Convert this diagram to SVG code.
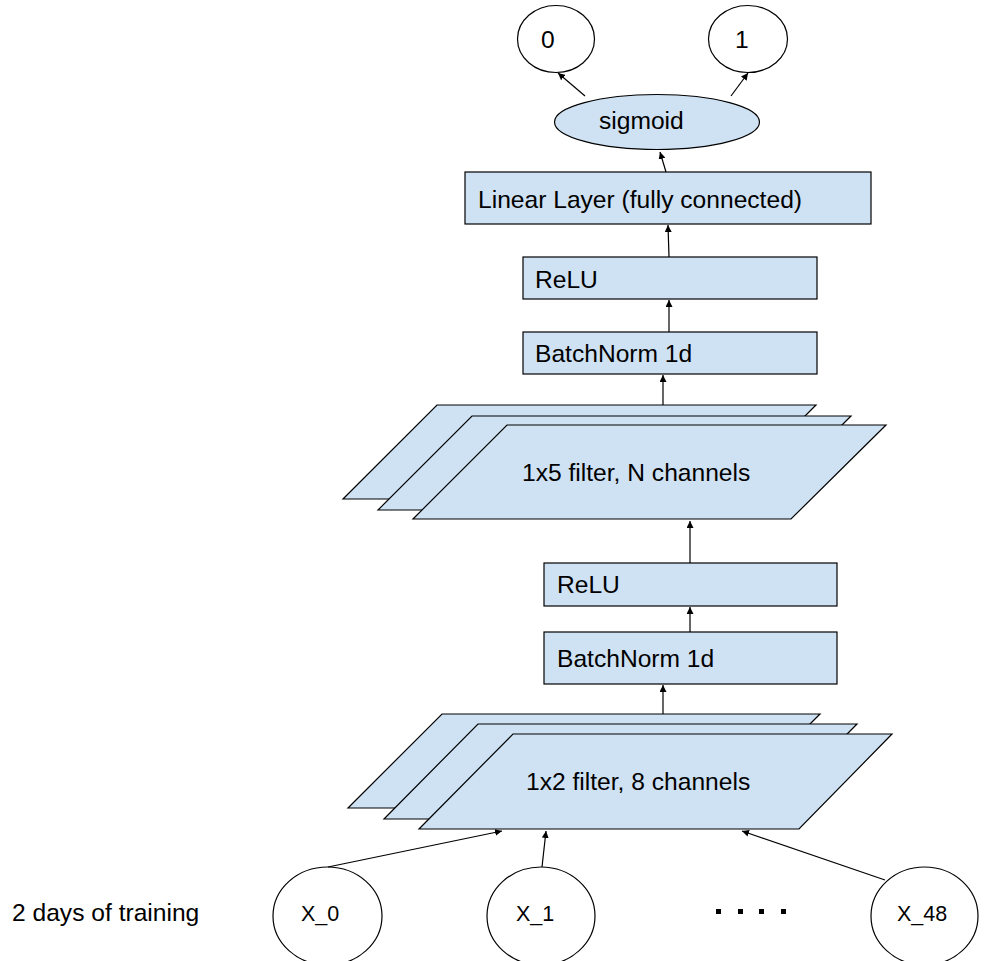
<svg xmlns="http://www.w3.org/2000/svg" width="986" height="961" viewBox="0 0 986 961">
  <defs>
    <style>
      .box { fill: #cfe2f3; stroke: #000; stroke-width: 1.2; }
      .plain { fill: #fff; stroke: #000; stroke-width: 1.2; }
      .lbl { font-family: "Liberation Sans", Arial, sans-serif; font-size: 24.6px; fill: #000; }
      .xlbl { font-family: "Liberation Sans", Arial, sans-serif; font-size: 21.5px; fill: #000; }
      .edge { fill: none; stroke: #000; stroke-width: 1.2; marker-end: url(#arrow); }
    </style>
    <marker id="arrow" viewBox="0 0 10 10" refX="10" refY="5" markerWidth="7" markerHeight="7" markerUnits="userSpaceOnUse" orient="auto">
      <path d="M0,0 L10,5 L0,10 z" fill="#000"/>
    </marker>
  </defs>

  <rect width="986" height="961" fill="#fff"/>

  <!-- outputs -->
  <g id="out0">
    <ellipse class="plain" cx="556" cy="39" rx="38.5" ry="33.5"/>
    <text class="lbl" x="541" y="48">0</text>
  </g>
  <g id="out1">
    <ellipse class="plain" cx="748" cy="39" rx="39.5" ry="33.5"/>
    <text class="lbl" x="735" y="48">1</text>
  </g>

  <g id="sigmoid">
    <ellipse class="box" cx="657" cy="122" rx="102.5" ry="27.5"/>
    <text class="lbl" x="599" y="129">sigmoid</text>
  </g>

  <g id="linear">
    <rect class="box" x="465" y="172" width="406" height="52"/>
    <text class="lbl" x="478" y="208">Linear Layer (fully connected)</text>
  </g>

  <g id="relu2">
    <rect class="box" x="523" y="257" width="294" height="42"/>
    <text class="lbl" x="535" y="288">ReLU</text>
  </g>

  <g id="bn2">
    <rect class="box" x="523" y="332" width="294" height="42"/>
    <text class="lbl" x="535" y="362">BatchNorm 1d</text>
  </g>

  <!-- second convolution: stacked feature maps -->
  <g id="conv2">
    <polygon class="box" points="437,405 816,405 722,499 343,499"/>
    <polygon class="box" points="472,416 851,416 757,510 378,510"/>
    <polygon class="box" points="507,425 886,425 791,519 413,519"/>
    <text class="lbl" x="522" y="481">1x5 filter, N channels</text>
  </g>

  <g id="relu1">
    <rect class="box" x="544" y="563" width="293" height="43"/>
    <text class="lbl" x="557" y="593">ReLU</text>
  </g>

  <g id="bn1">
    <rect class="box" x="544" y="632" width="293" height="52"/>
    <text class="lbl" x="557" y="667">BatchNorm 1d</text>
  </g>

  <!-- first convolution: stacked feature maps -->
  <g id="conv1">
    <polygon class="box" points="442,714 820,714 726,808 348,808"/>
    <polygon class="box" points="478,724 857,724 763,819 384,819"/>
    <polygon class="box" points="513,734 892,734 799,829 419,829"/>
    <text class="lbl" x="526" y="790">1x2 filter, 8 channels</text>
  </g>

  <!-- inputs -->
  <g id="caption">
    <text class="lbl" x="12" y="921">2 days of training</text>
  </g>
  <g id="x0">
    <ellipse class="plain" cx="327.5" cy="916" rx="54.5" ry="49"/>
    <text class="xlbl" x="301" y="921">X_0</text>
  </g>
  <g id="x1">
    <ellipse class="plain" cx="541" cy="916" rx="54" ry="49"/>
    <text class="xlbl" x="516" y="921">X_1</text>
  </g>
  <g id="ellipsis">
    <rect x="716" y="909" width="5" height="5" fill="#000"/>
    <rect x="738" y="909" width="5" height="5" fill="#000"/>
    <rect x="759" y="909" width="5" height="5" fill="#000"/>
    <rect x="781" y="909" width="5" height="5" fill="#000"/>
  </g>
  <g id="x48">
    <ellipse class="plain" cx="924.5" cy="916" rx="53.5" ry="49"/>
    <text class="xlbl" x="897" y="921">X_48</text>
  </g>

  <!-- connectors -->
  <g id="connectors">
    <line class="edge" x1="585" y1="96" x2="558" y2="73"/>
    <line class="edge" x1="731" y1="96" x2="748" y2="73"/>
    <line class="edge" x1="666" y1="172" x2="660" y2="152"/>
    <line class="edge" x1="669" y1="257" x2="668" y2="225"/>
    <line class="edge" x1="669" y1="332" x2="669" y2="300"/>
    <line class="edge" x1="663" y1="405" x2="663" y2="375"/>
    <line class="edge" x1="690" y1="563" x2="690" y2="521"/>
    <line class="edge" x1="690" y1="632" x2="690" y2="607"/>
    <line class="edge" x1="663" y1="714" x2="663" y2="685"/>
    <line class="edge" x1="328" y1="867" x2="502" y2="831"/>
    <line class="edge" x1="542" y1="867" x2="546" y2="831"/>
    <line class="edge" x1="885" y1="880" x2="742" y2="831"/>
  </g>
</svg>
